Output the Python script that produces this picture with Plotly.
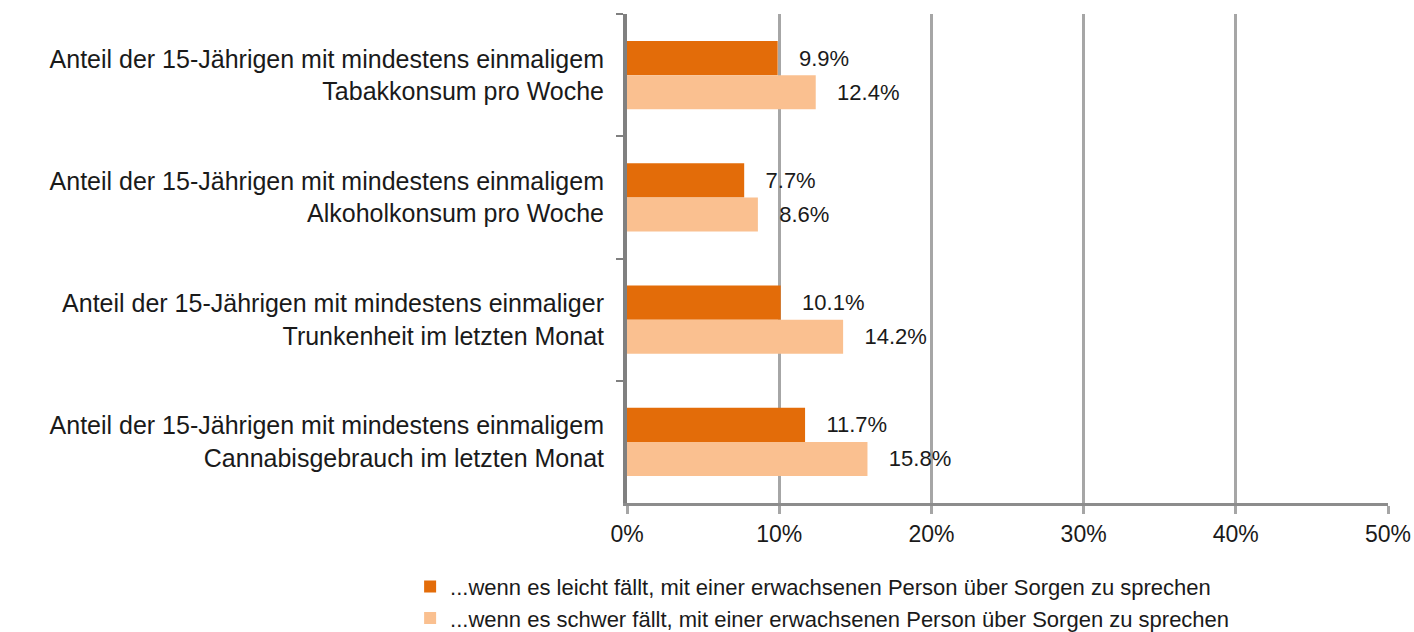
import plotly.graph_objects as go

categories = [
    "Anteil der 15-Jährigen mit mindestens einmaligem<br>Tabakkonsum pro Woche",
    "Anteil der 15-Jährigen mit mindestens einmaligem<br>Alkoholkonsum pro Woche",
    "Anteil der 15-Jährigen mit mindestens einmaliger<br>Trunkenheit im letzten Monat",
    "Anteil der 15-Jährigen mit mindestens einmaligem<br>Cannabisgebrauch im letzten Monat",
]
leicht = [9.9, 7.7, 10.1, 11.7]
schwer = [12.4, 8.6, 14.2, 15.8]
series_names = [
    "...wenn es leicht fällt, mit einer erwachsenen Person über Sorgen zu sprechen",
    "...wenn es schwer fällt, mit einer erwachsenen Person über Sorgen zu sprechen",
]
tick_vals = [0, 10, 20, 30, 40, 50]
tick_text = ["0%", "10%", "20%", "30%", "40%", "50%"]

pad = "\u00a0" * 3
fig = go.Figure()
for name, vals, color in [(series_names[0], leicht, "#E36C09"), (series_names[1], schwer, "#FAC090")]:
    fig.add_trace(go.Bar(
        y=categories, x=vals, name=name, orientation="h",
        marker=dict(color=color, line=dict(width=0)),
        text=[f"{pad}{v:.1f}%" for v in vals],
        textposition="outside",
        textfont=dict(family="Liberation Sans, Arial", size=22, color="#1a1a1a"),
        cliponaxis=False,
    ))

fig.update_layout(
    width=1414, height=632,
    margin=dict(l=627, r=26, t=14, b=129, autoexpand=False),
    paper_bgcolor="white", plot_bgcolor="white",
    barmode="group", bargap=0.44, bargroupgap=0,
    font=dict(family="Liberation Sans, Arial", color="#1a1a1a"),
    showlegend=True,
    legend=dict(
        orientation="v", x=-0.285, xanchor="left", y=-0.128, yanchor="top",
        font=dict(size=22, color="#1a1a1a"), traceorder="normal",
        itemwidth=30, bgcolor="rgba(0,0,0,0)", tracegroupgap=0,
    ),
)
fig.update_xaxes(
    range=[0, 50], tickvals=tick_vals, ticktext=tick_text,
    showgrid=True, gridcolor="#A6A6A6", gridwidth=3,
    showline=True, linecolor="#8C8C8C", linewidth=3,
    ticks="outside", ticklen=8, tickwidth=3, tickcolor="#A6A6A6",
    tickfont=dict(size=23, color="#1a1a1a"), ticklabelstandoff=0,
    zeroline=False, fixedrange=True,
)
fig.update_yaxes(
    autorange="reversed", type="category",
    showline=True, linecolor="#808080", linewidth=4,
    ticks="outside", tickson="boundaries", ticklen=7, tickwidth=2, tickcolor="#808080",
    tickfont=dict(size=25, color="#1a1a1a"), ticklabelstandoff=14,
    showgrid=False, zeroline=False,
)

fig.write_html("out.html")
